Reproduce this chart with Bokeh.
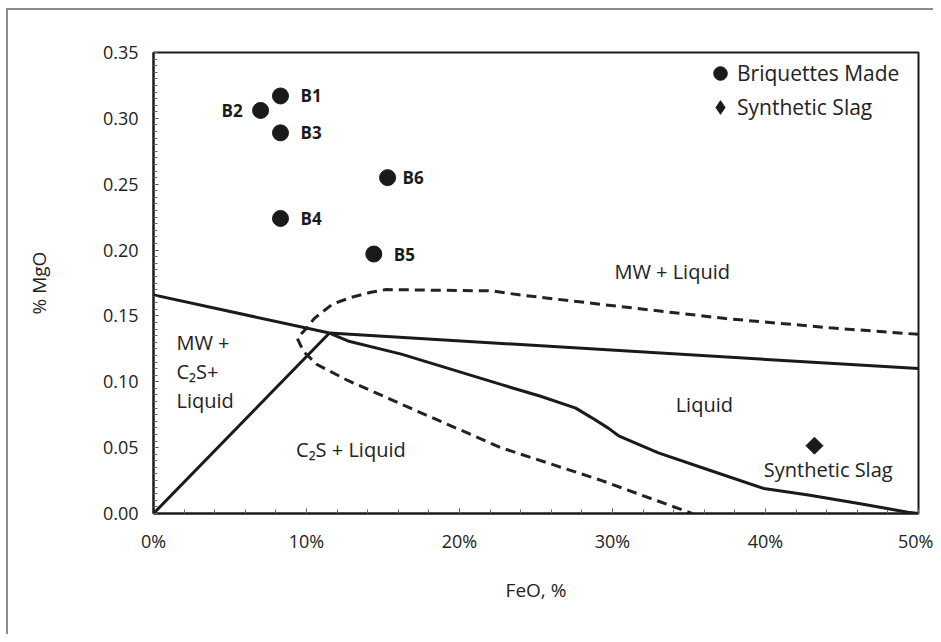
import numpy as np
from bokeh.plotting import figure
from bokeh.models import (ColumnDataSource, FixedTicker, PrintfTickFormatter,
                          Legend, LegendItem, Range1d)
from bokeh.core.properties import value
from bokeh.embed import file_html
from bokeh.resources import INLINE

# ---------------- data ----------------
brq_names = ["B1", "B2", "B3", "B4", "B5", "B6"]
brq_feo = [8.3, 7.0, 8.3, 8.3, 14.4, 15.3]
brq_mgo = [0.317, 0.306, 0.289, 0.224, 0.197, 0.255]
brq_label_dx = [20, -18, 20, 20, 20, 15]

slag_feo = [43.2]
slag_mgo = [0.0515]

# solid boundaries
upper_left_x = [0.0, 11.5]
upper_left_y = [0.166, 0.137]

flat_x = [11.5, 50.0]
flat_y = [0.137, 0.110]

origin_x = [0.0, 11.5]
origin_y = [0.0, 0.137]

liquidus_x = [11.5, 12.7, 16.2, 22.7, 25.3, 27.6, 28.6, 29.7, 30.4, 33.0, 36.3, 39.9, 42.8, 46.1, 49.3, 50.0]
liquidus_y = [0.137, 0.131, 0.121, 0.098, 0.089, 0.080, 0.073, 0.065, 0.059, 0.046, 0.033, 0.019, 0.014, 0.0076, 0.001, 0.0]

# dashed boundary
dash_x = [50.0, 44.2, 37.4, 30.6, 23.9, 22.1, 15.2, 14.2, 12.9, 11.7, 10.5, 10.1, 9.4, 9.8, 10.7, 12.7, 16.2, 22.7, 29.3, 35.2]
dash_y = [0.136, 0.141, 0.148, 0.157, 0.166, 0.169, 0.170, 0.168, 0.164, 0.159, 0.148, 0.142, 0.133, 0.123, 0.113, 0.101, 0.083, 0.050, 0.025, 0.0]

# region labels
region_text = ["MW + Liquid", "Liquid", "C\u2082S + Liquid", "Synthetic Slag"]
region_x = [33.9, 36.0, 12.9, 44.1]
region_y = [0.184, 0.083, 0.0485, 0.0333]

left_text = ["MW +", "C\u2082S+", "Liquid"]
left_x = [1.5, 1.5, 1.5]
left_y = [0.1295, 0.1075, 0.0856]

x_ticks = [0, 10, 20, 30, 40, 50]
y_ticks = [0.0, 0.05, 0.10, 0.15, 0.20, 0.25, 0.30, 0.35]

FONT = "Open Sans"
INK = "#1a1a1a"
GREY = "#8c8c8c"

p = figure(width=933, height=634, output_backend="svg", toolbar_location=None,
           x_range=Range1d(0, 50), y_range=Range1d(0, 0.35),
           min_border_left=153, min_border_right=15, min_border_top=52, min_border_bottom=121,
           x_axis_label="FeO, %", y_axis_label="% MgO",
           styles={
               "background-color": "white",
               "background-image": f"linear-gradient({GREY},{GREY}), linear-gradient({GREY},{GREY})",
               "background-size": "100% 2px, 2px 100%",
               "background-position": "7px 8px, 6px 8px",
               "background-repeat": "no-repeat",
           })
p.grid.visible = False
p.outline_line_color = INK
p.outline_line_width = 2
p.background_fill_color = "white"
p.border_fill_alpha = 0

for ax in (p.xaxis[0], p.yaxis[0]):
    ax.axis_line_color = INK
    ax.axis_line_width = 2
    ax.major_tick_in = 5
    ax.major_tick_out = 0
    ax.minor_tick_in = 4
    ax.minor_tick_out = 0
    ax.major_tick_line_color = "#333333"
    ax.minor_tick_line_color = "#666666"
    ax.major_label_text_font = FONT
    ax.major_label_text_font_size = "18px"
    ax.major_label_text_color = "#222222"
    ax.axis_label_text_font = FONT
    ax.axis_label_text_font_size = "19px"
    ax.axis_label_text_font_style = "normal"
    ax.axis_label_text_color = "#222222"

p.xaxis[0].ticker = FixedTicker(ticks=x_ticks, minor_ticks=list(np.arange(0, 50.01, 2)))
p.xaxis[0].formatter = PrintfTickFormatter(format="%d%%")
p.xaxis[0].major_label_standoff = 15
p.xaxis[0].axis_label_standoff = 21

p.yaxis[0].ticker = FixedTicker(ticks=y_ticks, minor_ticks=list(np.round(np.arange(0, 0.3501, 0.005), 4)))
p.yaxis[0].formatter = PrintfTickFormatter(format="%.2f")
p.yaxis[0].major_label_standoff = 15
p.yaxis[0].axis_label_standoff = 48

LW = 3
p.line(upper_left_x, upper_left_y, line_color=INK, line_width=LW)
p.line(flat_x, flat_y, line_color=INK, line_width=LW)
p.line(origin_x, origin_y, line_color=INK, line_width=LW)
p.line(liquidus_x, liquidus_y, line_color=INK, line_width=LW)
p.line(dash_x, dash_y, line_color="#222222", line_width=3, line_dash="10 6")

src = ColumnDataSource(dict(x=brq_feo, y=brq_mgo, name=brq_names, dx=brq_label_dx,
                            align=["left" if d > 0 else "right" for d in brq_label_dx]))
p.scatter("x", "y", source=src, marker="circle", size=16, fill_color=INK, line_color=INK)
p.text("x", "y", text="name", source=src, x_offset="dx", text_align="align",
       text_baseline="middle", text_font=value(FONT), text_font_size="17px",
       text_font_style="bold", text_color=INK)

slag_src = ColumnDataSource(dict(x=slag_feo, y=slag_mgo))
p.scatter("x", "y", source=slag_src, marker="square", angle=np.pi / 4, size=12,
          fill_color=INK, line_color=INK)

p.text(region_x, region_y, text=region_text, text_align="center", text_baseline="middle",
       text_font=value(FONT), text_font_size="20px", text_color="#222222")
p.text(left_x, left_y, text=left_text, text_align="left", text_baseline="middle",
       text_font=value(FONT), text_font_size="20px", text_color="#222222")

# legend-only renderers (hidden on the plot, drawn in the legend)
lg_c = p.scatter("x", "y", source=src, marker="circle", fill_color=INK, line_color=INK, visible=False)
lg_d = p.scatter("x", "y", source=slag_src, marker="diamond", fill_color=INK, line_color=INK, visible=False)

legend = Legend(items=[LegendItem(label="Briquettes Made", renderers=[lg_c], index=0),
                       LegendItem(label="Synthetic Slag", renderers=[lg_d], index=0)],
                location=(550, 389), glyph_width=34, glyph_height=34, spacing=-7,
                label_standoff=-2, padding=0, margin=0, border_line_alpha=0,
                background_fill_alpha=0, label_text_font=FONT, label_text_font_size="21px",
                label_text_color="#222222", label_height=20, click_policy="none")
p.add_layout(legend)

open("out.html", "w").write(file_html(p, INLINE))
